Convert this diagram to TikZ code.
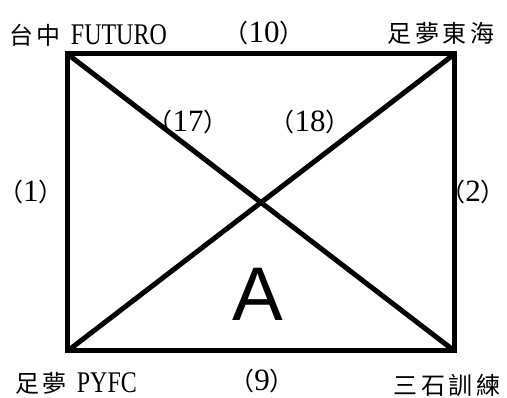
\documentclass[tikz,border=0pt]{standalone}
\usepackage{fontspec}
\setmainfont{Liberation Serif}
\newfontfamily\cjk{Noto Sans CJK TC}[LetterSpace=16]
\newfontfamily\cjkp{Noto Sans CJK TC}
\newfontfamily\asans{Liberation Sans}
\newcommand{\cjkt}[1]{{\fontsize{24}{24}\selectfont\cjk #1}}
\newcommand{\lat}[1]{{\fontsize{30}{30}\selectfont\scalebox{0.8}[1]{#1}}}
\newcommand{\num}[1]{\hspace*{-10pt}{\fontsize{25}{25}\selectfont\cjkp （}{\fontsize{31}{31}\selectfont #1}{\fontsize{25}{25}\selectfont\cjkp ）}\hspace*{-10pt}}
\tikzset{
  edge/.style={line width=5pt, line join=miter, line cap=butt},
  lbl/.style={inner sep=0pt, anchor=center}
}
\begin{document}
\begin{tikzpicture}[x=1pt,y=-1pt]
\useasboundingbox (0,0) rectangle (507,398);
\coordinate (TL) at (67.5,54);
\coordinate (TR) at (454.5,54);
\coordinate (BR) at (454.5,351);
\coordinate (BL) at (67.5,351);
\draw[edge] (TL) -- (TR) -- (BR) -- (BL) -- cycle;
\draw[edge] (TL) -- (BR);
\draw[edge] (TR) -- (BL);
\node[lbl] (ntl) at (88,35) {\cjkt{台中}\hspace{10pt}\lat{FUTURO}};
\node[lbl] (ntop) at (264,33) {\num{10}};
\node[lbl] (ntr) at (441,33) {\cjkt{足夢東海}};
\node[lbl] (n17) at (188,122) {\num{17}};
\node[lbl] (n18) at (310,122) {\num{18}};
\node[lbl] (nl) at (31,192) {\num{1}};
\node[lbl] (nr) at (473,192) {\num{2}};
\node[lbl] (nA) at (258,294) {\fontsize{76}{76}\selectfont\asans A};
\node[lbl] (nbl) at (76,383) {\cjkt{足夢}\hspace{10pt}\lat{PYFC}};
\node[lbl] (nbot) at (262,381) {\num{9}};
\node[lbl] (nbr) at (447,385) {\cjkt{三石訓練}};
\end{tikzpicture}
\end{document}
